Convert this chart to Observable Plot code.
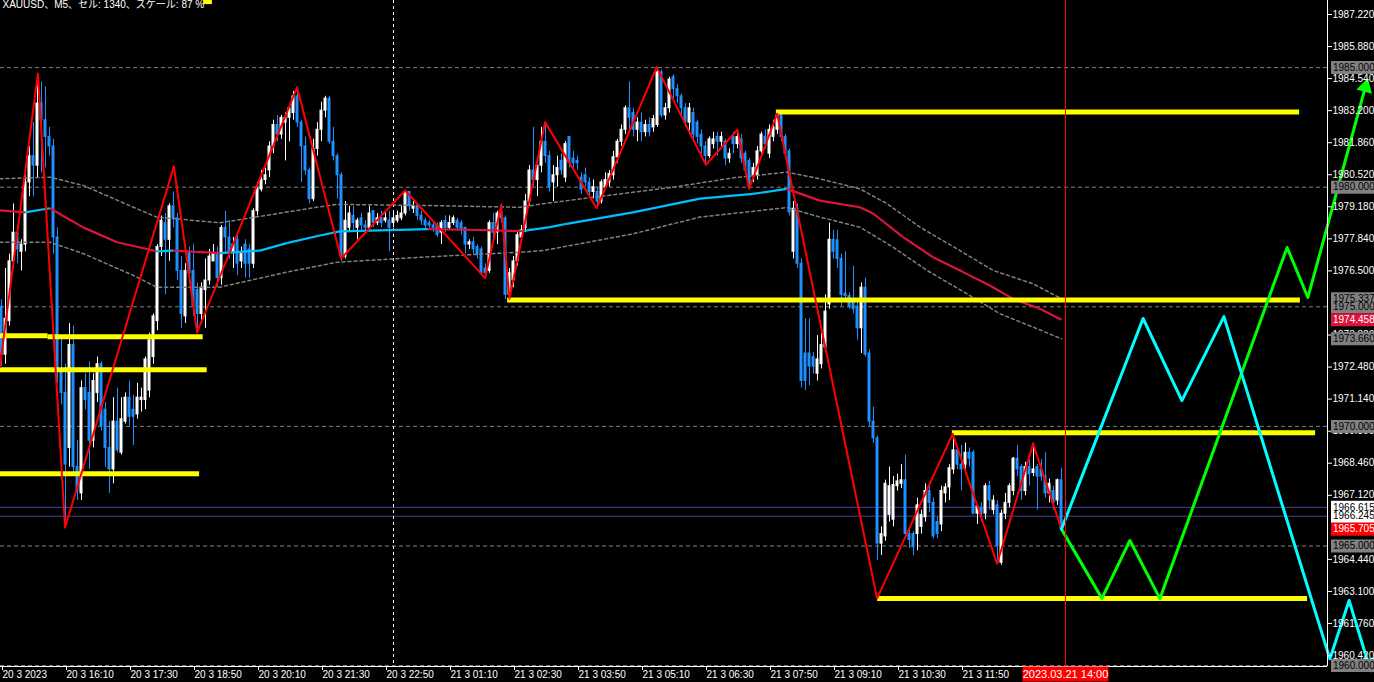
<!DOCTYPE html>
<html><head><meta charset="utf-8">
<script src="https://cdn.jsdelivr.net/npm/d3@7"></script>
<script src="https://cdn.jsdelivr.net/npm/@observablehq/plot@0.6"></script>
<style>html,body{margin:0;padding:0;background:#000;overflow:hidden}</style>
</head><body><div id="chart"></div><script>
// ---------- data ----------
const title = "XAUUSD、M5、セル: 1340、スケール: 87 %";
const timeTickBars = [0,16,32,48,64,80,96,112,128,144,160,176,192,208,224,240];
const timeTickLabels = ["20 3 2023","20 3 16:10","20 3 17:30","20 3 18:50","20 3 20:10","20 3 21:30","20 3 22:50","21 3 01:10","21 3 02:30","21 3 03:50","21 3 05:10","21 3 06:30","21 3 07:50","21 3 09:10","21 3 10:30","21 3 11:50"];
const priceTicks = [1987.22,1985.88,1984.54,1983.20,1981.86,1980.52,1979.18,1977.84,1976.50,1973.82,1972.48,1971.14,1969.80,1968.46,1967.12,1964.44,1963.10,1961.76,1960.42];
const cursorBar = 266, cursorLabel = "2023.03.21 14:00";
const separatorBar = 98;
const levelPrices = [1985, 1980, 1975, 1970, 1965, 1960];
const hlinePrices = [1966.245, 1966.615];
const bidPrice = 1965.705;

const open = [1975.0,1973.0,1974.4,1976.9,1978.1,1977.3,1977.6,1980.2,1981.3,1980.9,
1983.5,1982.8,1982.1,1981.7,1977.9,1972.4,1971.4,1969.1,1973.4,1968.3,
1967.2,1971.6,1971.4,1969.4,1971.4,1972.6,1970.7,1969.1,1968.2,1970.2,
1968.9,1970.2,1971.2,1970.7,1970.5,1971.1,1971.1,1971.5,1972.9,1974.4,
1977.5,1978.5,1977.8,1979.2,1978.7,1976.5,1974.6,1977.3,1976.5,1975.7,
1974.7,1975.7,1976.1,1976.9,1977.2,1976.2,1978.3,1977.9,1977.3,1977.8,
1976.9,1977.6,1977.4,1976.8,1979.0,1979.9,1980.3,1980.7,1981.7,1982.6,
1982.2,1982.7,1982.9,1983.1,1983.8,1982.7,1981.7,1980.7,1979.5,1981.6,
1982.4,1983.2,1983.7,1981.9,1981.3,1980.5,1977.1,1978.3,1978.8,1978.3,
1978.7,1978.4,1978.3,1979.0,1978.5,1978.7,1978.6,1978.6,1978.5,1978.6,
1978.7,1978.9,1979.8,1979.1,1979.2,1978.8,1978.6,1978.5,1978.4,1978.4,
1978.1,1978.6,1978.3,1978.5,1978.6,1978.5,1978.3,1977.6,1977.7,1977.5,
1977.4,1976.6,1976.5,1978.5,1978.1,1978.9,1978.7,1975.5,1976.1,1976.9,
1977.9,1978.3,1979.4,1980.7,1980.3,1980.9,1981.9,1981.3,1980.2,1980.5,
1981.1,1980.4,1982.1,1981.2,1981.1,1980.4,1980.5,1980.2,1979.8,1979.8,
1979.4,1980.0,1980.2,1980.5,1981.25,1981.9,1982.4,1983.3,1983.1,1982.4,
1982.7,1982.3,1982.6,1982.5,1982.6,1984.8,1983.0,1983.3,1984.6,1984.1,
1983.8,1983.3,1982.7,1983.1,1982.7,1982.2,1981.7,1981.3,1981.8,1982.1,
1981.9,1981.9,1981.2,1982.1,1981.8,1982.0,1981.4,1981.1,1980.5,1980.5,
1981.5,1982.1,1981.4,1982.1,1982.4,1983.0,1982.1,1981.5,1977.3,1979.1,
1976.8,1973.05,1973.05,1972.9,1972.2,1972.6,1973.3,1975.1,1977.8,1977.78,
1977.0,1975.55,1975.45,1975.3,1975.0,1974.1,1975.8,1973.05,1970.2,1969.5,
1965.1,1965.4,1966.3,1966.1,1967.5,1967.6,1967.75,1965.5,1965.5,1965.5,
1965.8,1966.2,1967.3,1966.8,1966.0,1965.9,1967.2,1967.45,1968.2,1969.0,
1968.4,1968.4,1968.9,1968.9,1966.35,1966.6,1966.35,1967.5,1966.5,1966.7,
1964.3,1966.35,1966.8,1967.3,1968.65,1968.3,1967.3,1968.3,1968.05,1968.3,
1968.2,1967.9,1967.2,1967.3,1966.9,1967.75];
const high = [1975.3,1976.6,1977.2,1979.3,1978.4,1977.8,1980.5,1981.7,1982.7,1984.75,
1984.4,1984.2,1982.5,1982.0,1978.3,1973.8,1972.6,1974.3,1974.2,1969.4,
1971.9,1972.2,1972.7,1972.2,1972.9,1972.7,1971.0,1970.2,1971.2,1971.6,
1971.2,1971.4,1971.9,1971.3,1971.8,1971.6,1972.9,1973.9,1974.7,1977.6,
1978.8,1978.9,1979.3,1979.8,1978.9,1977.1,1976.8,1977.5,1977.6,1976.0,
1976.0,1977.0,1977.4,1977.6,1977.5,1978.4,1979.0,1978.6,1977.9,1978.1,
1977.5,1977.8,1977.6,1979.1,1980.2,1980.7,1980.8,1981.9,1982.8,1983.0,
1983.0,1983.1,1983.4,1984.0,1984.2,1982.8,1982.1,1980.8,1982.0,1982.7,
1983.55,1983.8,1983.8,1982.5,1981.4,1980.6,1979.4,1979.2,1979.2,1978.7,
1978.9,1978.6,1979.2,1979.0,1978.9,1979.0,1979.0,1979.0,1978.9,1979.0,
1979.2,1979.86,1979.8,1979.4,1979.3,1979.0,1978.7,1978.6,1978.5,1978.5,
1978.6,1978.8,1978.8,1978.8,1978.7,1978.6,1978.3,1977.8,1977.9,1977.6,
1977.5,1976.8,1978.6,1978.9,1979.0,1979.3,1978.8,1976.6,1977.1,1978.1,
1978.4,1979.7,1980.9,1982.5,1980.9,1982.5,1982.7,1981.5,1980.9,1981.3,
1981.4,1981.9,1982.1,1981.5,1981.3,1980.6,1980.8,1980.4,1980.3,1980.0,
1980.3,1980.6,1980.7,1981.5,1982.0,1982.6,1983.4,1984.4,1983.3,1982.9,
1983.1,1982.8,1982.9,1983.0,1985.0,1984.9,1983.5,1984.6,1984.7,1984.3,
1983.9,1983.5,1983.5,1983.3,1982.8,1982.4,1981.9,1982.1,1982.3,1982.3,
1982.3,1982.0,1981.6,1982.3,1982.4,1982.2,1981.5,1981.2,1981.0,1981.7,
1982.3,1982.4,1982.6,1982.8,1983.14,1983.1,1982.2,1981.6,1979.4,1979.3,
1977.0,1974.5,1974.5,1973.1,1973.8,1973.9,1975.5,1978.5,1978.2,1978.2,
1977.2,1977.3,1975.6,1976.7,1975.2,1976.0,1976.2,1973.2,1970.8,1969.6,
1965.8,1967.75,1968.3,1967.9,1968.0,1968.4,1968.8,1965.7,1965.6,1967.0,
1966.5,1967.6,1967.5,1967.0,1966.2,1967.5,1967.6,1968.4,1969.7,1969.2,
1969.2,1969.3,1969.1,1969.0,1966.7,1966.8,1967.6,1967.7,1967.1,1966.9,
1966.5,1967.2,1967.6,1968.7,1969.2,1968.4,1968.5,1968.6,1969.3,1968.4,
1968.6,1968.9,1967.8,1967.5,1967.8,1968.25];
const low = [1972.5,1972.6,1974.2,1976.6,1976.8,1976.5,1977.3,1979.6,1979.6,1980.4,
1980.6,1980.8,1981.3,1977.2,1971.8,1970.9,1965.8,1968.3,1967.9,1966.9,
1966.9,1970.7,1968.2,1969.1,1971.0,1969.8,1968.3,1967.2,1967.6,1968.9,
1968.8,1970.1,1970.0,1969.2,1970.3,1970.6,1970.7,1971.2,1972.6,1974.0,
1977.1,1975.5,1976.9,1978.3,1976.1,1974.1,1974.3,1976.0,1974.6,1974.1,
1974.3,1974.1,1975.9,1976.9,1975.8,1975.9,1977.2,1977.0,1976.6,1976.3,
1976.6,1976.2,1976.2,1976.6,1978.8,1979.8,1980.1,1980.4,1981.4,1981.9,
1982.0,1981.1,1981.9,1982.8,1982.5,1980.2,1980.5,1979.3,1979.4,1981.3,
1981.9,1982.9,1981.8,1981.1,1979.5,1976.9,1977.0,1978.1,1978.2,1977.8,
1978.2,1978.1,1978.2,1978.3,1978.4,1978.3,1978.5,1977.3,1978.3,1978.5,
1978.6,1978.8,1979.0,1978.9,1978.6,1978.4,1978.2,1978.2,1978.1,1977.9,
1977.6,1978.1,1978.2,1978.4,1978.2,1978.0,1977.2,1977.4,1977.2,1977.0,
1976.3,1976.2,1976.4,1977.8,1977.6,1978.5,1975.3,1975.3,1975.8,1976.7,
1977.7,1978.1,1979.2,1980.0,1979.6,1980.6,1981.0,1979.8,1979.4,1980.0,
1980.5,1980.2,1980.8,1980.8,1980.7,1979.7,1980.0,1979.6,1979.5,1979.12,
1979.3,1979.9,1980.0,1980.3,1981.0,1981.7,1982.2,1982.4,1982.1,1981.9,
1981.9,1982.1,1982.1,1982.3,1982.5,1982.9,1982.8,1983.1,1983.7,1983.5,
1983.0,1982.5,1982.2,1981.9,1981.8,1981.4,1980.9,1981.2,1981.6,1981.3,
1981.7,1980.9,1981.0,1981.4,1981.6,1981.0,1980.5,1979.9,1980.2,1980.3,
1981.3,1981.6,1981.2,1981.9,1982.2,1981.9,1981.2,1978.8,1977.0,1976.6,
1971.6,1971.5,1971.7,1972.2,1971.9,1972.4,1973.2,1974.9,1977.0,1976.6,
1975.0,1975.2,1974.9,1974.7,1973.6,1973.05,1972.9,1970.0,1969.3,1964.4,
1964.6,1965.2,1966.0,1965.8,1967.3,1967.4,1965.3,1964.9,1964.6,1964.8,
1965.5,1966.0,1966.4,1965.3,1965.3,1965.6,1966.8,1966.9,1968.0,1968.2,
1967.3,1968.1,1968.3,1966.3,1965.9,1966.0,1966.1,1966.5,1966.3,1964.3,
1964.2,1966.1,1966.6,1967.1,1967.9,1966.9,1967.1,1967.5,1967.9,1966.5,
1967.7,1967.0,1966.8,1966.5,1966.7,1965.6];
const close = [1973.0,1974.5,1976.9,1978.1,1977.4,1977.6,1980.2,1981.3,1980.9,1983.5,
1982.8,1982.1,1981.7,1977.9,1972.4,1971.4,1968.4,1973.4,1968.3,1967.3,
1971.6,1971.1,1969.4,1971.9,1972.6,1970.0,1969.1,1968.2,1970.2,1969.0,
1970.3,1971.2,1970.4,1970.4,1971.2,1971.2,1972.8,1973.6,1974.6,1977.5,
1978.6,1977.8,1979.2,1978.7,1976.5,1974.7,1976.5,1976.4,1975.0,1974.7,
1975.8,1976.1,1977.1,1977.2,1976.2,1978.3,1977.9,1977.3,1977.6,1976.8,
1977.2,1976.8,1976.8,1979.0,1980.0,1980.3,1980.5,1981.7,1982.6,1982.2,
1982.9,1982.9,1983.3,1983.8,1982.7,1981.7,1980.7,1979.5,1981.6,1982.4,
1983.2,1983.7,1981.9,1981.3,1980.5,1977.1,1978.6,1978.9,1978.5,1978.6,
1978.4,1978.3,1978.9,1978.5,1978.7,1978.5,1978.7,1978.3,1978.7,1978.8,
1978.9,1979.8,1979.2,1979.2,1978.8,1978.6,1978.4,1978.4,1978.3,1978.0,
1978.5,1978.3,1978.5,1978.7,1978.3,1978.2,1977.6,1977.7,1977.4,1977.2,
1976.4,1976.4,1978.5,1978.1,1978.9,1978.7,1975.5,1976.4,1976.9,1978.0,
1978.2,1979.4,1980.7,1980.3,1980.9,1981.9,1981.3,1980.0,1980.5,1980.8,
1980.7,1981.8,1981.0,1981.0,1981.0,1979.9,1980.2,1979.8,1980.0,1979.4,
1980.2,1980.3,1980.55,1981.25,1981.9,1982.4,1983.3,1982.9,1982.4,1982.7,
1982.3,1982.6,1982.3,1982.85,1984.8,1983.0,1983.3,1984.5,1984.1,1983.8,
1983.3,1982.7,1983.3,1982.2,1982.1,1981.7,1981.3,1982.0,1982.0,1981.9,
1982.1,1981.2,1981.4,1981.8,1982.1,1981.2,1980.7,1980.0,1980.8,1981.5,
1982.2,1981.8,1982.4,1982.5,1983.0,1982.1,1981.4,1978.95,1979.1,1976.8,
1971.9,1971.9,1972.5,1972.5,1972.8,1973.4,1974.8,1977.8,1977.3,1977.0,
1975.5,1975.45,1975.0,1974.9,1974.1,1975.8,1973.0,1970.2,1969.5,1965.1,
1965.5,1967.6,1967.5,1967.55,1967.7,1967.75,1965.5,1965.25,1964.95,1966.7,
1966.3,1967.3,1966.8,1965.4,1965.5,1967.3,1967.45,1968.25,1969.0,1968.4,
1968.2,1968.9,1968.65,1966.35,1966.65,1966.35,1967.5,1966.9,1966.9,1965.0,
1966.35,1966.8,1967.5,1968.65,1968.2,1967.3,1968.3,1968.0,1968.2,1967.9,
1967.9,1967.2,1967.6,1966.8,1967.75,1965.705];

// moving average (colour by direction) and its bands
const maBars = [-0.4,5.9,12.1,20.4,28.9,38.8,42.9,54.6,64.6,71.3,79.6,84.6,106.6,119.6,130.1,137.1,141.3,157.9,174.6,187.9,196.3,204.6,214.6,217.9,225.4,232.9,240.4,247.1,252.9,259.6,265];
const maVals = [1979.03,1978.95,1979.12,1978.32,1977.70,1977.32,1977.35,1977.24,1977.35,1977.66,1977.98,1978.15,1978.25,1978.21,1978.16,1978.33,1978.47,1978.95,1979.52,1979.72,1979.93,1979.44,1979.16,1978.90,1977.91,1977.07,1976.45,1975.89,1975.33,1974.92,1974.458];
const upperBars = [-0.4,12.1,20.5,33.0,38.8,54.6,71.3,78.8,83.8,104.6,129.6,135.4,157.9,167.9,182.9,196.4,204.6,214.6,221.4,229.6,239.6,247.9,257.9,265];
const upperVals = [1980.35,1980.42,1980.07,1979.16,1978.75,1978.51,1978.96,1979.16,1979.28,1979.24,1979.16,1979.31,1979.79,1980.00,1980.39,1980.63,1980.35,1979.93,1979.31,1978.33,1977.35,1976.52,1975.96,1975.337];
const lowerBars = [-0.4,12.1,20.5,33.0,38.8,54.6,71.3,83.8,104.6,129.6,135.4,157.9,174.6,196.4,204.6,214.6,222.9,231.4,241.4,249.6,257.9,265];
const lowerVals = [1977.70,1977.70,1977.22,1976.31,1975.82,1975.82,1976.45,1976.86,1977.07,1977.28,1977.35,1978.05,1978.75,1979.15,1978.75,1978.33,1977.49,1976.52,1975.54,1974.71,1974.15,1973.66];

// hand-drawn objects
const zigBars = [-0.4,9.1,15.9,43.1,48.9,73.9,84.9,100.9,120.9,124.9,127.0,135.9,148.8,163.8,176.1,184.0,186.9,193.9,218.9,237.8,248.9,257.9,265];
const zigPrices = [1972.48,1984.75,1965.77,1980.87,1973.93,1984.17,1977.02,1979.86,1976.20,1979.24,1975.33,1982.72,1979.12,1985.02,1980.94,1982.40,1979.93,1983.07,1962.81,1969.69,1964.26,1969.27,1965.705];
const greenBars = [265,275.1,282.1,289.6,321.4,326.6,341.3];
const greenPrices = [1965.705,1962.81,1965.23,1962.80,1977.48,1975.39,1984.39];
const cyanBars = [265,285.4,295.1,305.6,332.1,336.9,342.1];
const cyanPrices = [1965.705,1974.51,1971.08,1974.59,1960.28,1962.72,1959.87];
const yellowStart = [50.4,-0.4,11.5,-0.4,-0.4,126.4,193.6,237.6,218.9];
const yellowEnd   = [52.6,11.5,50.3,51.3,49.4,324.6,324.4,328.4,326.4];
const yellowPrice = [1987.76,1973.79,1973.75,1972.37,1968.02,1975.28,1983.14,1969.73,1962.81];

// ---------- layout ----------
const W = 1374, H = 682, MR = 47, MB = 16;
const X0 = -0.25, X1 = 331.5, Y0 = 1959.962, Y1 = 1987.805;
const pxPerBar = (W - MR) / (X1 - X0);
const pxPerUsd = (H - MB) / (Y1 - Y0);
const barAt = px => px / pxPerBar + X0;
const priceAt = py => Y1 - py / pxPerUsd;
const FONT = "'Liberation Sans', Arial, 'Noto Sans CJK JP', sans-serif";
const GRAY = "#808080", BLUE = "#1e90ff", CRIMSON = "#dc143c";

const bars = open.map((o, i) => ({i, o, c: close[i], h: Math.max(high[i], o, close[i]), l: Math.min(low[i], o, close[i]), up: close[i] >= o}));
const pts = (xs, ys) => xs.map((x, k) => ({x, y: ys[k]}));
const maSegs = maBars.slice(1).map((b, k) => ({x1: maBars[k], y1: maVals[k], x2: b, y2: maVals[k + 1], rising: maVals[k + 1] >= maVals[k]}));
const yellow = yellowPrice.map((p, k) => ({x1: yellowStart[k], x2: yellowEnd[k], p}));
const green = pts(greenBars, greenPrices), cyan = pts(cyanBars, cyanPrices);
// arrow heads: filled triangle at the path end, rotated along the last segment (screen space)
const head = a => {
  const p = a.at(-2), q = a.at(-1);
  const dx = (q.x - p.x) * pxPerBar, dy = -(q.y - p.y) * pxPerUsd;
  const len = Math.hypot(dx, dy), back = 5;
  return [{x: q.x - dx / len * back / pxPerBar, y: q.y + dy / len * back / pxPerUsd, rot: Math.atan2(dx, -dy) * 180 / Math.PI}];
};
const tickLabel = new Map(timeTickBars.map((b, k) => [b, timeTickLabels[k]]));

const boxes = [
  {p: upperVals.at(-1), bg: GRAY, fg: "#000"},
  {p: lowerVals.at(-1), bg: GRAY, fg: "#000"},
  ...levelPrices.map(p => ({p, bg: GRAY, fg: "#000"})),
  {p: maVals.at(-1), bg: CRIMSON, fg: "#fff"},
  {p: hlinePrices[0], bg: "#fff", fg: "#000"},
  {p: hlinePrices[1], bg: "#fff", fg: "#000"},
  {p: bidPrice, bg: "#ff0000", fg: "#fff"}
];
const boxX1 = barAt(1330.5), boxX2 = barAt(1385), boxTextX = barAt(1332.5);
const timeBoxHalf = 43 / pxPerBar, timeBoxP = priceAt(673.5);

const chart = Plot.plot({
  width: W, height: H,
  marginLeft: 0, marginTop: 0, marginRight: MR, marginBottom: MB,
  x: {domain: [X0, X1], label: null},
  y: {domain: [Y0, Y1], label: null},
  color: {type: "identity"},
  style: {background: "#000", color: "#fff", fontFamily: FONT, fontSize: "11px", overflow: "hidden"},
  marks: [
    Plot.ruleY(levelPrices, {stroke: GRAY, strokeDasharray: "4,3"}),
    Plot.ruleY(hlinePrices, {stroke: "#4a3f9e"}),
    Plot.ruleX([separatorBar], {stroke: "#fff", strokeDasharray: "3,3"}),
    Plot.ruleX(bars, {x: "i", y1: "l", y2: "h", stroke: d => d.up ? "#fff" : BLUE}),
    Plot.rect(bars, {x1: d => d.i - 0.375, x2: d => d.i + 0.375, y1: "o", y2: "c", fill: d => d.up ? "#fff" : BLUE, insetTop: -0.5, insetBottom: -0.5}),
    Plot.line(pts(upperBars, upperVals), {x: "x", y: "y", stroke: GRAY, strokeDasharray: "3,3"}),
    Plot.line(pts(lowerBars, lowerVals), {x: "x", y: "y", stroke: GRAY, strokeDasharray: "3,3"}),
    Plot.link(maSegs, {x1: "x1", y1: "y1", x2: "x2", y2: "y2", stroke: d => d.rising ? "#00bfff" : CRIMSON, strokeWidth: 2.2}),
    Plot.link(yellow, {x1: "x1", x2: "x2", y1: "p", y2: "p", stroke: "#ffff00", strokeWidth: 5}),
    Plot.line(pts(zigBars, zigPrices), {x: "x", y: "y", stroke: "#ff0000", strokeWidth: 2}),
    Plot.line(green.slice(0, -1).concat(head(green)), {x: "x", y: "y", stroke: "#00ff00", strokeWidth: 3}),
    Plot.dot(head(green), {x: "x", y: "y", rotate: "rot", symbol: "triangle", r: 6, fill: "#00ff00", stroke: null}),
    Plot.line(cyan.slice(0, -1).concat(head(cyan)), {x: "x", y: "y", stroke: "#00ffff", strokeWidth: 3}),
    Plot.dot(head(cyan), {x: "x", y: "y", rotate: "rot", symbol: "triangle", r: 6, fill: "#00ffff", stroke: null}),
    Plot.ruleX([cursorBar], {stroke: "#ff0000"}),
    Plot.ruleX([X1], {stroke: "#fff"}),
    Plot.ruleY([Y0], {stroke: "#fff"}),
    Plot.axisY(priceTicks, {anchor: "right", tickSize: 4, tickPadding: 1, tickFormat: d => d.toFixed(3), fontSize: 10, label: null}),
    Plot.axisX(timeTickBars, {anchor: "bottom", tickSize: 4, tickPadding: 0, textAnchor: "start", dx: 1, tickFormat: d => tickLabel.get(d), fontSize: 10, label: null}),
    Plot.link(boxes, {x1: () => boxX1, x2: () => boxX2, y1: "p", y2: "p", stroke: "bg", strokeWidth: 13}),
    Plot.text(boxes, {x: () => boxTextX, y: "p", text: d => d.p.toFixed(3), fill: "fg", textAnchor: "start", fontSize: 10}),
    Plot.link([cursorBar], {x1: d => d - timeBoxHalf, x2: d => d + timeBoxHalf, y1: () => timeBoxP, y2: () => timeBoxP, stroke: "#ff0000", strokeWidth: 15}),
    Plot.text([cursorLabel], {x: () => cursorBar, y: () => timeBoxP, text: d => d, fill: "#fff", fontSize: 11}),
    Plot.text([title], {frameAnchor: "top-left", textAnchor: "start", lineAnchor: "top", dx: 2, dy: 0, fill: "#fff", fontSize: 10})
  ]
});
document.getElementById("chart").appendChild(chart);
</script></body></html>
